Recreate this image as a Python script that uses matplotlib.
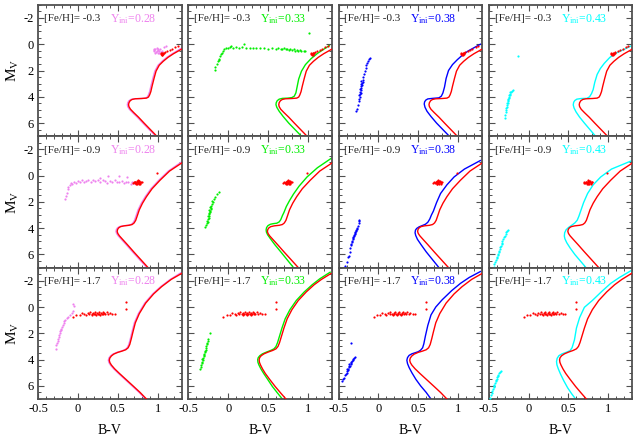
import numpy as np
import matplotlib
matplotlib.use("Agg")
import matplotlib.pyplot as plt
from matplotlib.ticker import MultipleLocator

plt.rcParams['font.family'] = ['Liberation Serif', 'DejaVu Serif']
plt.rcParams['mathtext.fontset'] = 'custom'
plt.rcParams['mathtext.rm'] = 'Liberation Serif'
plt.rcParams['mathtext.it'] = 'Liberation Serif:italic'
plt.rcParams['axes.unicode_minus'] = False

# ---------------- labels ----------------
feh_labels = ['-0.3', '-0.9', '-1.7']
y_labels = ['0.28', '0.33', '0.38', '0.43']
y_colors = ['#ee82ee', '#00ee00', '#0000ff', '#00ffff']
RED = '#ff0000'

# ---------------- isochrones: [Fe/H] = -0.3 ----------------
r1_red_x = [0.99, 0.91, 0.83, 0.76, 0.70, 0.66, 0.64, 0.635, 0.64, 0.655, 0.68, 0.72, 0.80, 0.86, 0.885, 0.90, 0.915, 0.93, 0.955, 0.98, 1.02, 1.07, 1.13, 1.20, 1.30]
r1_red_y = [7.0, 6.5, 6.0, 5.55, 5.2, 4.95, 4.75, 4.6, 4.45, 4.3, 4.2, 4.15, 4.13, 4.1, 4.02, 3.85, 3.6, 3.2, 2.6, 2.05, 1.6, 1.3, 1.0, 0.72, 0.38]
r1_vio_x = [0.975, 0.895, 0.815, 0.745, 0.685, 0.645, 0.625, 0.62, 0.625, 0.64, 0.665, 0.705, 0.785, 0.845, 0.87, 0.885, 0.90, 0.915, 0.94, 0.965, 1.005, 1.055, 1.115, 1.185, 1.29]
r1_vio_y = [7.0, 6.5, 6.0, 5.55, 5.2, 4.95, 4.75, 4.6, 4.45, 4.3, 4.2, 4.15, 4.13, 4.1, 4.02, 3.85, 3.6, 3.2, 2.6, 2.05, 1.6, 1.3, 1.0, 0.72, 0.33]
r1_grn_x = [0.92, 0.84, 0.76, 0.69, 0.64, 0.61, 0.60, 0.603, 0.615, 0.64, 0.68, 0.75, 0.80, 0.83, 0.85, 0.865, 0.885, 0.92, 0.97, 1.04, 1.12, 1.27]
r1_grn_y = [7.0, 6.5, 6.0, 5.5, 5.1, 4.8, 4.6, 4.45, 4.3, 4.18, 4.12, 4.1, 4.06, 3.95, 3.7, 3.25, 2.65, 2.05, 1.55, 1.1, 0.7, 0.1]
r1_blu_x = [0.89, 0.81, 0.73, 0.66, 0.61, 0.585, 0.575, 0.58, 0.595, 0.62, 0.68, 0.76, 0.79, 0.81, 0.83, 0.85, 0.88, 0.93, 0.99, 1.06, 1.13, 1.28]
r1_blu_y = [7.0, 6.5, 6.0, 5.5, 5.1, 4.8, 4.55, 4.38, 4.25, 4.16, 4.12, 4.08, 3.95, 3.7, 3.25, 2.6, 2.0, 1.55, 1.18, 0.8, 0.5, 0.0]
r1_cya_x = [0.84, 0.77, 0.70, 0.64, 0.595, 0.57, 0.56, 0.565, 0.58, 0.605, 0.66, 0.73, 0.765, 0.79, 0.81, 0.83, 0.86, 0.90, 0.95, 1.02, 1.09, 1.28]
r1_cya_y = [7.0, 6.5, 6.0, 5.55, 5.15, 4.85, 4.62, 4.42, 4.28, 4.18, 4.13, 4.12, 4.0, 3.75, 3.45, 2.9, 2.3, 1.85, 1.45, 1.0, 0.7, 0.15]

# ---------------- isochrones: [Fe/H] = -0.9 ----------------
r2_red_x = [0.88, 0.79, 0.70, 0.62, 0.56, 0.52, 0.50, 0.492, 0.497, 0.51, 0.535, 0.58, 0.64, 0.68, 0.705, 0.725, 0.745, 0.77, 0.81, 0.86, 0.93, 1.03, 1.15, 1.30]
r2_red_y = [7.0, 6.4, 5.8, 5.25, 4.85, 4.58, 4.4, 4.25, 4.1, 3.98, 3.88, 3.82, 3.78, 3.72, 3.6, 3.4, 3.05, 2.6, 2.1, 1.6, 1.0, 0.35, -0.35, -0.95]
r2_vio_x = [0.865, 0.775, 0.685, 0.605, 0.545, 0.505, 0.485, 0.477, 0.482, 0.495, 0.52, 0.565, 0.625, 0.665, 0.69, 0.71, 0.73, 0.755, 0.795, 0.845, 0.915, 1.015, 1.135, 1.29]
r2_vio_y = [7.0, 6.4, 5.8, 5.25, 4.85, 4.58, 4.4, 4.25, 4.1, 3.98, 3.88, 3.82, 3.78, 3.72, 3.6, 3.4, 3.05, 2.6, 2.1, 1.6, 1.0, 0.35, -0.35, -1.0]
r2_grn_x = [0.82, 0.74, 0.66, 0.585, 0.53, 0.495, 0.48, 0.476, 0.482, 0.50, 0.53, 0.57, 0.61, 0.64, 0.66, 0.68, 0.70, 0.73, 0.77, 0.82, 0.89, 0.99, 1.12, 1.29]
r2_grn_y = [7.0, 6.4, 5.8, 5.25, 4.8, 4.5, 4.3, 4.12, 3.95, 3.8, 3.7, 3.65, 3.62, 3.52, 3.35, 3.05, 2.8, 2.35, 1.9, 1.4, 0.8, 0.1, -0.6, -1.3]
r2_blu_x = [0.76, 0.68, 0.60, 0.535, 0.49, 0.468, 0.46, 0.465, 0.48, 0.51, 0.55, 0.59, 0.62, 0.645, 0.665, 0.69, 0.73, 0.78, 0.86, 0.95, 1.08, 1.28]
r2_blu_y = [7.0, 6.4, 5.8, 5.25, 4.85, 4.55, 4.35, 4.15, 4.02, 3.9, 3.8, 3.7, 3.55, 3.3, 3.0, 2.7, 2.05, 1.36, 0.7, 0.1, -0.5, -1.15]
r2_cya_x = [0.72, 0.65, 0.58, 0.52, 0.478, 0.455, 0.448, 0.452, 0.47, 0.50, 0.54, 0.58, 0.61, 0.63, 0.65, 0.69, 0.74, 0.81, 0.905, 1.04, 1.28]
r2_cya_y = [7.0, 6.5, 6.0, 5.5, 5.1, 4.8, 4.6, 4.35, 4.12, 3.95, 3.78, 3.6, 3.39, 3.1, 2.75, 2.05, 1.36, 0.7, 0.1, -0.5, -1.1]

# ---------------- isochrones: [Fe/H] = -1.7 ----------------
r3_redA_x = [0.86, 0.78, 0.70, 0.61, 0.52, 0.46, 0.42, 0.40, 0.393, 0.40, 0.42, 0.45, 0.50, 0.55, 0.60, 0.63, 0.65, 0.67, 0.69, 0.72, 0.77, 0.85, 0.95, 1.05, 1.17, 1.30]
r3_redA_y = [7.0, 6.5, 6.05, 5.55, 5.05, 4.7, 4.42, 4.22, 4.05, 3.88, 3.72, 3.58, 3.45, 3.36, 3.25, 3.1, 2.85, 2.4, 1.9, 1.2, 0.5, -0.3, -1.0, -1.55, -2.1, -2.55]
r3_vio_x = [0.848, 0.768, 0.688, 0.598, 0.508, 0.448, 0.408, 0.388, 0.381, 0.388, 0.408, 0.438, 0.488, 0.538, 0.588, 0.618, 0.638, 0.658, 0.678, 0.708, 0.758, 0.838, 0.938, 1.038, 1.158, 1.29]
r3_vio_y = [7.0, 6.5, 6.05, 5.55, 5.05, 4.7, 4.42, 4.22, 4.05, 3.88, 3.72, 3.58, 3.45, 3.36, 3.25, 3.1, 2.85, 2.4, 1.9, 1.2, 0.5, -0.3, -1.0, -1.55, -2.1, -2.6]
r3_redB_x = [0.725, 0.66, 0.59, 0.52, 0.465, 0.43, 0.405, 0.392, 0.388, 0.395, 0.415, 0.45, 0.50, 0.56, 0.60, 0.625, 0.645, 0.67, 0.70, 0.74, 0.80, 0.88, 0.98, 1.08, 1.17, 1.29]
r3_redB_y = [7.0, 6.55, 6.05, 5.5, 5.05, 4.7, 4.4, 4.2, 4.0, 3.85, 3.7, 3.56, 3.43, 3.3, 3.18, 3.0, 2.7, 2.2, 1.6, 0.9, 0.2, -0.5, -1.15, -1.7, -2.1, -2.55]
r3_grn_x = [0.68, 0.62, 0.555, 0.495, 0.445, 0.41, 0.385, 0.373, 0.37, 0.377, 0.397, 0.43, 0.48, 0.535, 0.575, 0.60, 0.62, 0.645, 0.675, 0.715, 0.775, 0.855, 0.955, 1.055, 1.15, 1.28]
r3_grn_y = [7.0, 6.55, 6.05, 5.5, 5.05, 4.7, 4.4, 4.2, 4.0, 3.85, 3.7, 3.56, 3.43, 3.3, 3.18, 3.0, 2.7, 2.2, 1.6, 0.9, 0.2, -0.5, -1.15, -1.7, -2.15, -2.65]
r3_blu_x = [0.66, 0.60, 0.53, 0.47, 0.42, 0.385, 0.365, 0.357, 0.365, 0.385, 0.42, 0.46, 0.50, 0.53, 0.555, 0.57, 0.59, 0.62, 0.66, 0.72, 0.80, 0.92, 1.03, 1.14, 1.28]
r3_blu_y = [7.0, 6.5, 6.0, 5.5, 5.0, 4.6, 4.3, 4.05, 3.85, 3.68, 3.56, 3.48, 3.4, 3.28, 3.1, 2.8, 2.2, 1.4, 0.6, 0.0, -0.55, -1.25, -1.8, -2.25, -2.7]
r3_cya_x = [0.59, 0.54, 0.49, 0.44, 0.40, 0.372, 0.355, 0.35, 0.358, 0.38, 0.42, 0.47, 0.52, 0.545, 0.56, 0.575, 0.60, 0.64, 0.70, 0.80, 0.92, 1.03, 1.14, 1.28]
r3_cya_y = [7.0, 6.6, 6.15, 5.6, 5.1, 4.7, 4.4, 4.15, 3.9, 3.7, 3.56, 3.45, 3.32, 3.1, 2.8, 2.5, 1.6, 0.8, 0.02, -0.5, -1.2, -1.8, -2.25, -2.75]

# ---------------- HB stars (B-V, M_V) ----------------
hb_red_r1 = [(1.04,0.7),(1.05,0.75),(1.06,0.8),(1.07,0.7),(1.06,0.72),(1.05,0.82),(1.07,0.78),(1.08,0.68),
             (1.04,0.78),(1.06,0.66),(1.09,0.62),(1.12,0.52),(1.15,0.45),(1.18,0.35),(1.22,0.22),(1.25,0.15)]
hb_red_r2 = [(0.7,0.5),(0.72,0.45),(0.73,0.55),(0.74,0.4),(0.75,0.5),(0.76,0.6),(0.74,0.65),(0.77,0.45),
             (0.78,0.55),(0.75,0.35),(0.73,0.62),(0.76,0.52),(0.77,0.4),(0.71,0.58),(0.79,0.5),(0.74,0.48),
             (0.76,0.42),(0.75,0.58),(0.72,0.52),(0.78,0.62),(0.8,0.45),(0.69,0.55),(0.99,-0.22)]
hb_red_r3 = [(-0.06,0.75),(-0.02,0.6),(0.02,0.6),(0.05,0.45),(0.08,0.55),(0.1,0.6),(0.12,0.45),(0.14,0.55),
             (0.15,0.4),(0.17,0.5),(0.18,0.6),(0.19,0.45),(0.2,0.55),(0.21,0.4),(0.22,0.5),(0.23,0.6),
             (0.24,0.45),(0.25,0.55),(0.26,0.4),(0.27,0.5),(0.28,0.6),(0.29,0.45),(0.3,0.5),(0.31,0.4),
             (0.32,0.55),(0.33,0.45),(0.34,0.5),(0.36,0.4),(0.38,0.55),(0.4,0.45),(0.43,0.5),(0.46,0.55),
             (0.6,-0.35),(0.6,0.15)]

hb_r1_vio = [(0.95,0.45),(0.96,0.55),(0.97,0.4),(0.98,0.6),(0.99,0.5),(1.0,0.35),(1.0,0.65),(1.01,0.45),
             (1.02,0.55),(0.97,0.65),(1.03,0.4),(0.99,0.3),(1.05,0.5),(1.08,0.2),(1.1,0.15),(0.96,0.35),
             (1.02,0.7),(1.04,0.6)]
hb_r1_grn = [(-0.16,1.95),(-0.16,1.7),(-0.14,1.5),(-0.13,1.3),(-0.12,1.1),(-0.11,1.2),(-0.1,0.9),(-0.09,0.75),
             (-0.08,0.65),(-0.06,0.5),(-0.05,0.4),(-0.03,0.3),(0.0,0.25),(0.02,0.2),(0.04,0.15),(0.06,0.25),
             (0.1,0.2),(0.13,0.3),(0.17,0.2),(0.2,-0.05),(0.22,0.25),(0.27,0.3),(0.31,0.25),(0.35,0.3),
             (0.4,0.3),(0.45,0.25),(0.5,0.35),(0.55,0.28),(0.6,0.38),(0.63,0.3),(0.66,0.35),(0.68,0.4),
             (0.7,0.32),(0.72,0.4),(0.74,0.35),(0.76,0.42),(0.78,0.38),(0.8,0.45),(0.82,0.4),(0.84,0.48),
             (0.86,0.42),(0.88,0.5),(0.9,0.45),(0.92,0.52),(0.95,0.5),(0.97,0.55),(1.02,-0.85)]
hb_r1_blu = [(-0.28,5.1),(-0.27,4.9),(-0.26,4.6),(-0.25,4.3),(-0.24,4.2),(-0.235,4.0),(-0.24,3.9),(-0.23,3.8),
             (-0.225,3.7),(-0.235,3.6),(-0.22,3.5),(-0.23,3.4),(-0.215,3.35),(-0.22,3.2),(-0.21,3.1),
             (-0.225,3.05),(-0.21,2.95),(-0.2,2.85),(-0.215,2.8),(-0.2,2.7),(-0.19,2.5),(-0.18,2.3),
             (-0.17,2.0),(-0.16,1.8),(-0.15,1.6),(-0.14,1.45),(-0.13,1.3),(-0.12,1.15),(-0.11,1.05)]
hb_r1_cya = [(-0.3,5.6),(-0.295,5.35),(-0.29,5.15),(-0.28,5.0),(-0.285,4.85),(-0.275,4.75),(-0.27,4.6),
             (-0.265,4.5),(-0.275,4.45),(-0.26,4.35),(-0.255,4.25),(-0.265,4.2),(-0.25,4.1),(-0.245,4.0),
             (-0.25,3.9),(-0.24,3.85),(-0.235,3.75),(-0.23,3.65),(-0.22,3.6),(-0.21,3.55),(-0.2,3.5),(-0.14,0.93)]

hb_r2_vio = [(-0.16,1.75),(-0.155,1.55),(-0.14,1.3),(-0.13,1.0),(-0.12,0.85),(-0.1,0.7),(-0.09,0.55),(-0.07,0.6),
             (-0.05,0.45),(-0.03,0.55),(0.0,0.4),(0.02,0.5),(0.05,0.35),(0.08,0.45),(0.1,0.4),(0.13,0.3),
             (0.16,0.45),(0.19,0.35),(0.22,0.4),(0.25,0.3),(0.28,0.45),(0.31,0.35),(0.34,0.4),(0.37,0.55),
             (0.4,0.4),(0.43,0.5),(0.46,0.35),(0.49,0.45),(0.52,0.5),(0.55,0.4),(0.58,0.55),(0.6,0.45),
             (0.63,0.5),(0.66,0.6),(0.68,0.45),(0.7,0.55),(0.72,0.5),(0.38,0.05),(0.52,0.0),(0.62,0.1),(0.28,0.15)]
hb_r2_grn = [(-0.29,3.9),(-0.28,3.75),(-0.27,3.6),(-0.265,3.45),(-0.255,3.5),(-0.25,3.3),(-0.245,3.2),(-0.25,3.1),
             (-0.24,3.05),(-0.235,2.95),(-0.24,2.85),(-0.23,2.8),(-0.225,2.7),(-0.235,2.65),(-0.22,2.55),
             (-0.215,2.45),(-0.225,2.4),(-0.21,2.3),(-0.2,2.15),(-0.19,2.0),(-0.18,1.8),(-0.16,1.6),
             (-0.14,1.4),(-0.12,1.23),(-0.2,1.9)]
hb_r2_blu = [(-0.42,6.9),(-0.4,6.6),(-0.38,6.2),(-0.37,6.1),(-0.36,5.8),(-0.355,5.5),(-0.35,5.3),(-0.34,5.2),
             (-0.335,5.05),(-0.33,4.95),(-0.325,4.85),(-0.32,4.75),(-0.315,4.7),(-0.31,4.6),(-0.305,4.55),
             (-0.3,4.45),(-0.295,4.4),(-0.29,4.3),(-0.285,4.25),(-0.28,4.15),(-0.275,4.05),(-0.27,3.95),
             (-0.26,3.8),(-0.25,3.6),(-0.245,3.45),(-0.24,3.4)]
hb_r2_cya = [(-0.44,6.95),(-0.43,6.75),(-0.42,6.6),(-0.41,6.45),(-0.4,6.3),(-0.395,6.2),(-0.39,6.05),(-0.38,5.95),
             (-0.375,5.8),(-0.37,5.7),(-0.36,5.55),(-0.355,5.45),(-0.35,5.35),(-0.34,5.2),(-0.335,5.1),
             (-0.33,4.95),(-0.32,4.85),(-0.31,4.7),(-0.3,4.6),(-0.29,4.45),(-0.28,4.3),(-0.27,4.2),(-0.26,4.15)]

hb_r3_vio = [(-0.28,3.2),(-0.27,2.9),(-0.26,2.7),(-0.255,2.55),(-0.25,2.4),(-0.24,2.25),(-0.235,2.15),(-0.23,2.0),
             (-0.22,1.85),(-0.215,1.75),(-0.21,1.65),(-0.2,1.5),(-0.19,1.4),(-0.18,1.25),(-0.17,1.1),(-0.16,1.0),
             (-0.14,0.85),(-0.12,0.75),(-0.1,0.6),(-0.08,0.45),(-0.06,0.3),(-0.06,-0.2),(-0.05,-0.05)]
hb_r3_grn = [(-0.35,4.75),(-0.345,4.55),(-0.34,4.4),(-0.335,4.25),(-0.33,4.15),(-0.32,4.05),(-0.325,3.95),
             (-0.315,3.85),(-0.31,3.75),(-0.305,3.65),(-0.3,3.55),(-0.295,3.45),(-0.29,3.35),(-0.285,3.25),
             (-0.28,3.15),(-0.275,3.0),(-0.27,2.85),(-0.26,2.7),(-0.255,2.55),(-0.25,2.45),(-0.23,1.95)]
hb_r3_blu = [(-0.46,5.65),(-0.44,5.5),(-0.43,5.4),(-0.42,5.2),(-0.41,5.1),(-0.4,5.0),(-0.39,4.9),(-0.385,4.8),
             (-0.38,4.7),(-0.37,4.6),(-0.365,4.5),(-0.36,4.45),(-0.35,4.35),(-0.345,4.25),(-0.34,4.15),
             (-0.33,4.1),(-0.325,4.0),(-0.32,3.95),(-0.31,3.9),(-0.3,3.82),(-0.34,2.76),(-0.4,4.75),(-0.37,4.3)]
hb_r3_cya = [(-0.48,6.9),(-0.47,6.7),(-0.46,6.55),(-0.455,6.4),(-0.45,6.25),(-0.44,6.1),(-0.435,6.0),(-0.43,5.9),
             (-0.42,5.75),(-0.415,5.65),(-0.41,5.55),(-0.4,5.45),(-0.395,5.35),(-0.39,5.25),(-0.38,5.15),
             (-0.37,5.05),(-0.36,4.95),(-0.35,4.85)]

# ---------------- assemble panels ----------------
red_curves = [
    [(r1_red_x, r1_red_y)] * 4,
    [(r2_red_x, r2_red_y)] * 4,
    [(r3_redA_x, r3_redA_y), (r3_redB_x, r3_redB_y), (r3_redA_x, r3_redA_y), (r3_redB_x, r3_redB_y)],
]
col_curves = [
    [(r1_vio_x, r1_vio_y), (r1_grn_x, r1_grn_y), (r1_blu_x, r1_blu_y), (r1_cya_x, r1_cya_y)],
    [(r2_vio_x, r2_vio_y), (r2_grn_x, r2_grn_y), (r2_blu_x, r2_blu_y), (r2_cya_x, r2_cya_y)],
    [(r3_vio_x, r3_vio_y), (r3_grn_x, r3_grn_y), (r3_blu_x, r3_blu_y), (r3_cya_x, r3_cya_y)],
]
hb_col = [
    [hb_r1_vio, hb_r1_grn, hb_r1_blu, hb_r1_cya],
    [hb_r2_vio, hb_r2_grn, hb_r2_blu, hb_r2_cya],
    [hb_r3_vio, hb_r3_grn, hb_r3_blu, hb_r3_cya],
]
hb_red = [hb_red_r1, hb_red_r2, hb_red_r3]

fig, axes = plt.subplots(3, 4, figsize=(6.36, 4.38), dpi=100, sharex=True, sharey=True)
fig.subplots_adjust(left=0.06, right=0.994, top=0.989, bottom=0.089, wspace=0.048, hspace=0.0)

spine_col = '#505050'
for r in range(3):
    for c in range(4):
        ax = axes[r, c]
        col = y_colors[c]
        cx, cy = col_curves[r][c]
        rx, ry = red_curves[r][c]
        ax.plot(cx, cy, color=col, lw=1.0, zorder=2, solid_joinstyle='round')
        ax.plot(rx, ry, color=RED, lw=1.0, zorder=3, solid_joinstyle='round')
        pts = np.array(hb_col[r][c])
        ax.scatter(pts[:, 0], pts[:, 1], s=2.5, color=col, linewidths=0, zorder=4)
        pr = np.array(hb_red[r])
        ax.scatter(pr[:, 0], pr[:, 1], s=2.5, color=RED, linewidths=0, zorder=5)

        ax.set_xlim(-0.5, 1.3)
        ax.set_ylim(7, -3)
        ax.xaxis.set_major_locator(MultipleLocator(0.5))
        ax.xaxis.set_minor_locator(MultipleLocator(0.1))
        ax.yaxis.set_major_locator(MultipleLocator(2))
        ax.yaxis.set_minor_locator(MultipleLocator(0.5))
        ax.tick_params(which='both', direction='in', top=True, right=True,
                       color=spine_col, labelsize=9, pad=3)
        ax.tick_params(which='major', length=4.5, width=0.8)
        ax.tick_params(which='minor', length=2.5, width=0.7)
        for s in ax.spines.values():
            s.set_color(spine_col)
            s.set_linewidth(1.3)

        ax.text(0.04, 0.895, '[Fe/H]= ' + feh_labels[r], transform=ax.transAxes,
                fontsize=8, color='#222222', ha='left', va='center')
        ax.text(0.50, 0.895, 'Y$_{\\mathrm{ini}}$=' + y_labels[c], transform=ax.transAxes,
                fontsize=8.5, color=col, ha='left', va='center')

        if c == 0:
            ax.set_ylabel('M$_{\\mathrm{V}}$', fontsize=11, labelpad=2)
        if r == 2:
            ax.set_xlabel('B-V', fontsize=10, labelpad=6)
            ax.set_xticks([-0.5, 0, 0.5, 1])
            ax.set_xticklabels(['-0.5', '0', '0.5', '1'])

for ax in axes[:, 0]:
    ax.set_yticks([-2, 0, 2, 4, 6])
    ax.set_yticklabels(['-2', '0', '2', '4', '6'])

fig.savefig('out.png', dpi=100)
